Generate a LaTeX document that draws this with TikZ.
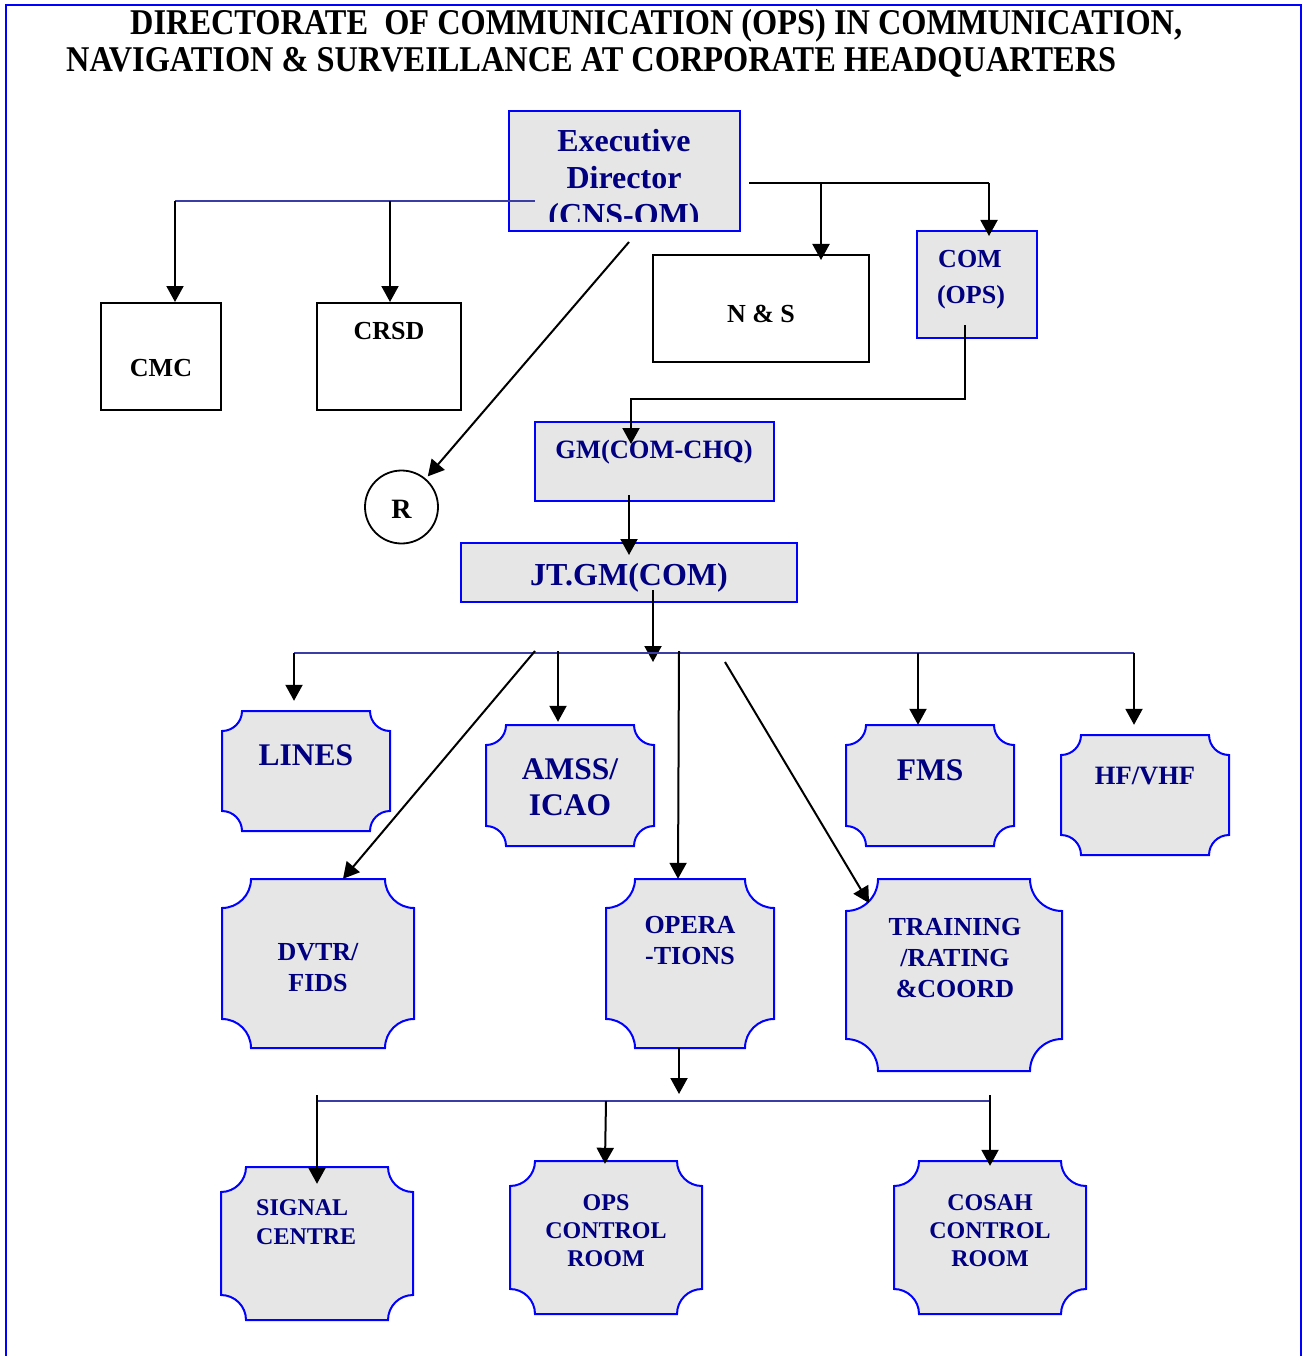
\documentclass[tikz,border=0pt]{standalone}
\usepackage{fontspec}
\usepackage{graphicx}
\setmainfont{Liberation Serif}
\usetikzlibrary{arrows.meta,calc}

\definecolor{navy}{RGB}{0,0,128}
\definecolor{edgeblue}{RGB}{0,0,255}
\definecolor{busblue}{RGB}{60,60,165}
\definecolor{stone}{RGB}{230,230,230}

\newcommand\fs[1]{\fontsize{#1}{#1}\selectfont\bfseries}

\tikzset{
  unitbox/.style={fill=stone, draw=edgeblue, line width=2pt, inner sep=0},
  plainbox/.style={fill=white, draw=black, line width=2pt, inner sep=0},
  plaqueshape/.style={fill=stone, draw=edgeblue, line width=2pt},
  lbl/.style={inner sep=0, anchor=base, text=navy},
  blk/.style={inner sep=0, anchor=base, text=black},
  link/.style={draw=black, line width=2pt, -{Triangle[length=16pt,width=17pt]}},
  wire/.style={draw=black, line width=2pt},
  bus/.style={draw=busblue, line width=1.6pt},
}

% box with concave (ticket-style) corners: name, x1, y1, x2, y2, corner radius
\newcommand\plaque[6]{%
  \path[plaqueshape] ({#2+#6},#3) -- ({#4-#6},#3)
    .. controls ({#4-#6},{#3+0.5523*#6}) and ({#4-0.5523*#6},{#3+#6}) .. (#4,{#3+#6})
    -- (#4,{#5-#6})
    .. controls ({#4-0.5523*#6},{#5-#6}) and ({#4-#6},{#5-0.5523*#6}) .. ({#4-#6},#5)
    -- ({#2+#6},#5)
    .. controls ({#2+#6},{#5-0.5523*#6}) and ({#2+0.5523*#6},{#5-#6}) .. (#2,{#5-#6})
    -- (#2,{#3+#6})
    .. controls ({#2+0.5523*#6},{#3+#6}) and ({#2+#6},{#3+0.5523*#6}) .. ({#2+#6},#3)
    -- cycle;
  \node[inner sep=0, minimum width={#4-#2}, minimum height={#5-#3}] (#1) at ({(#2+#4)/2},{(#3+#5)/2}) {};
}

\begin{document}
\begin{tikzpicture}[x=1pt,y=-1pt]
\useasboundingbox (0,0) rectangle (1308,1356);

% page frame (open at the bottom)
\draw[edgeblue, line width=2pt] (6,1356) -- (6,5) -- (1301,5) -- (1301,1356);

% title
\node[anchor=base west, inner sep=0] (title1) at (130,35)
  {\scalebox{1}[1.12]{\resizebox{1052pt}{!}{\fs{32}DIRECTORATE\ \ OF COMMUNICATION (OPS) IN COMMUNICATION,}}};
\node[anchor=base west, inner sep=0] (title2) at (66,72)
  {\scalebox{1}[1.12]{\resizebox{1050pt}{!}{\fs{32}NAVIGATION \& SURVEILLANCE AT CORPORATE HEADQUARTERS}}};

% upper level boxes
\node[unitbox, minimum width=231pt, minimum height=120pt] (ed) at (624.5,171) {};
\begin{scope}
  \clip (509,111) rectangle (740,222);
  \node[lbl, font=\fs{32}] (ed1) at (624,152) {Executive};
  \node[lbl, font=\fs{32}] (ed2) at (624,189) {Director};
  \node[lbl, font=\fs{32}] (ed3) at (624,226) {(CNS-OM)};
\end{scope}

\node[plainbox, minimum width=120pt, minimum height=107pt] (cmc) at (161,356.5) {};
\node[blk, font=\fs{26}] (cmct) at (161,376) {CMC};
\node[plainbox, minimum width=144pt, minimum height=107pt] (crsd) at (389,356.5) {};
\node[blk, font=\fs{26}] (crsdt) at (389,339) {CRSD};
\node[plainbox, minimum width=216pt, minimum height=107pt] (ns) at (761,308.5) {};
\node[blk, font=\fs{26}] (nst) at (761,322) {N \& S};
\node[unitbox, minimum width=120pt, minimum height=107pt] (com) at (977,284.5) {};
\node[lbl, font=\fs{26}] (com1) at (970,267) {COM};
\node[lbl, font=\fs{26}] (com2) at (971,303) {(OPS)};

\node[draw=black, line width=1.8pt, circle, minimum size=73pt, inner sep=0] (r) at (401.5,507) {};
\node[blk, font=\fs{28}] (rt) at (401.5,518) {R};

\node[unitbox, minimum width=239pt, minimum height=79pt] (gm) at (654.5,461.5) {};
\node[lbl, font=\fs{26.5}] (gmt) at (654,458) {GM(COM-CHQ)};
\node[unitbox, minimum width=336pt, minimum height=59pt] (jt) at (629,572.5) {};
\node[lbl, font=\fs{32}] (jtt) at (629,585) {JT.GM(COM)};

% sections under JT.GM(COM)
\plaque{lines}{222}{711}{390}{831}{20}
\node[lbl, font=\fs{31.5}] (linest) at (306,765) {LINES};
\plaque{amss}{486}{725}{654}{846}{20}
\node[lbl, font=\fs{31.5}] (amss1) at (570,779) {AMSS/};
\node[lbl, font=\fs{31.5}] (amss2) at (570,815) {ICAO};
\plaque{fms}{846}{725}{1014}{846}{20}
\node[lbl, font=\fs{31.5}] (fmst) at (930,780) {FMS};
\plaque{hf}{1061}{735}{1229}{855}{20}
\node[lbl, font=\fs{26.5}] (hft) at (1145,784) {HF/VHF};
\plaque{dvtr}{222}{879}{414}{1048}{29}
\node[lbl, font=\fs{26}] (dvtr1) at (318,960) {DVTR/};
\node[lbl, font=\fs{26}] (dvtr2) at (318,991) {FIDS};
\plaque{opera}{606}{879}{774}{1048}{29}
\node[lbl, font=\fs{26}] (opera1) at (690,933) {OPERA};
\node[lbl, font=\fs{26}] (opera2) at (690,964) {-TIONS};
\plaque{training}{846}{879}{1062}{1071}{32}
\node[lbl, font=\fs{26}] (tr1) at (955,935) {TRAINING};
\node[lbl, font=\fs{26}] (tr2) at (955,966) {/RATING};
\node[lbl, font=\fs{26}] (tr3) at (955,997) {\&COORD};

% units under operations
\plaque{signal}{221}{1167}{413}{1320}{25}
\node[lbl, anchor=base west, font=\fs{24}] (sig1) at (256,1215) {SIGNAL};
\node[lbl, anchor=base west, font=\fs{24}] (sig2) at (256,1244) {CENTRE};
\plaque{opsroom}{510}{1161}{702}{1314}{25}
\node[lbl, font=\fs{24}] (ops1) at (606,1210) {OPS};
\node[lbl, font=\fs{24}] (ops2) at (606,1238) {CONTROL};
\node[lbl, font=\fs{24}] (ops3) at (606,1266) {ROOM};
\plaque{cosah}{894}{1161}{1086}{1314}{25}
\node[lbl, font=\fs{24}] (cos1) at (990,1210) {COSAH};
\node[lbl, font=\fs{24}] (cos2) at (990,1238) {CONTROL};
\node[lbl, font=\fs{24}] (cos3) at (990,1266) {ROOM};

% ---- connectors ----
% Executive Director to CMC and CRSD
\coordinate (busA) at (175,201);
\coordinate (busAmid) at (390,201);
\coordinate (busAend) at (535,201);
\draw[bus] (busA) -- (busAend);
\draw[link] (busA) -- (busA |- cmc.north);
\draw[link] (busAmid) -- (busAmid |- crsd.north);

% Executive Director to N & S and COM (OPS)
\coordinate (edE) at (749,183);
\coordinate (nsJ) at (821,183);
\coordinate (comJ) at (989,183);
\draw[wire] (edE) -- (comJ);
\draw[link, shorten >=-6pt] (comJ) -- (comJ |- com.north);
\draw[link, shorten >=-6pt] (nsJ) -- (nsJ |- ns.north);

% Executive Director to R
\coordinate (edR) at (629,242);
\draw[link, shorten >=3pt] (edR) -- (r);

% COM (OPS) to GM(COM-CHQ)
\coordinate (comS) at (965,325);
\coordinate (gmJ) at (631,399);
\coordinate (gmIn) at (631,444);
\draw[link] (comS) |- (gmJ) -- (gmIn);

% GM to JT.GM
\coordinate (gmS) at (629,495);
\coordinate (jtIn) at (629,555);
\draw[link] (gmS) -- (jtIn);

% JT.GM to its sections
\coordinate (jtS) at (653,590);
\coordinate (busBj) at (653,662);
\draw[link] (jtS) -- (busBj);
\coordinate (busBl) at (294,653);
\coordinate (busBr) at (1134,653);
\draw[bus] (busBl) -- (busBr);
\draw[link, shorten >=10pt] (busBl) -- (busBl |- lines.north);
\coordinate (amssJ) at (558,651);
\draw[link, shorten >=3pt] (amssJ) -- (amssJ |- amss.north);
\coordinate (fmsJ) at (918,653);
\draw[link, shorten >=0pt] (fmsJ) -- (fmsJ |- fms.north);
\draw[link, shorten >=10pt] (busBr) -- (busBr |- hf.north);
\coordinate (dvtrJ) at (535,651);
\draw[link] (dvtrJ) -- (343,0 |- dvtr.north);
\coordinate (operaJ) at (679,651);
\draw[link] (operaJ) -- (678,0 |- opera.north);
\coordinate (trJ) at (725,662);
\coordinate (trIn) at (869,903);
\draw[link] (trJ) -- (trIn);

% Operations to its units
\coordinate (operaS) at (679,1048);
\coordinate (busCj) at (679,1094);
\draw[link] (operaS) -- (busCj);
\coordinate (busCl) at (317,1101);
\coordinate (busCr) at (990,1101);
\draw[bus] (busCl) -- (busCr);
\coordinate (sigTop) at (317,1095);
\draw[link, shorten >=-17pt] (sigTop) -- (sigTop |- signal.north);
\coordinate (opsJ) at (606,1101);
\draw[link, shorten >=-3pt] (opsJ) -- (605,0 |- opsroom.north);
\coordinate (cosTop) at (990,1095);
\draw[link, shorten >=-5pt] (cosTop) -- (cosTop |- cosah.north);
\end{tikzpicture}
\end{document}
